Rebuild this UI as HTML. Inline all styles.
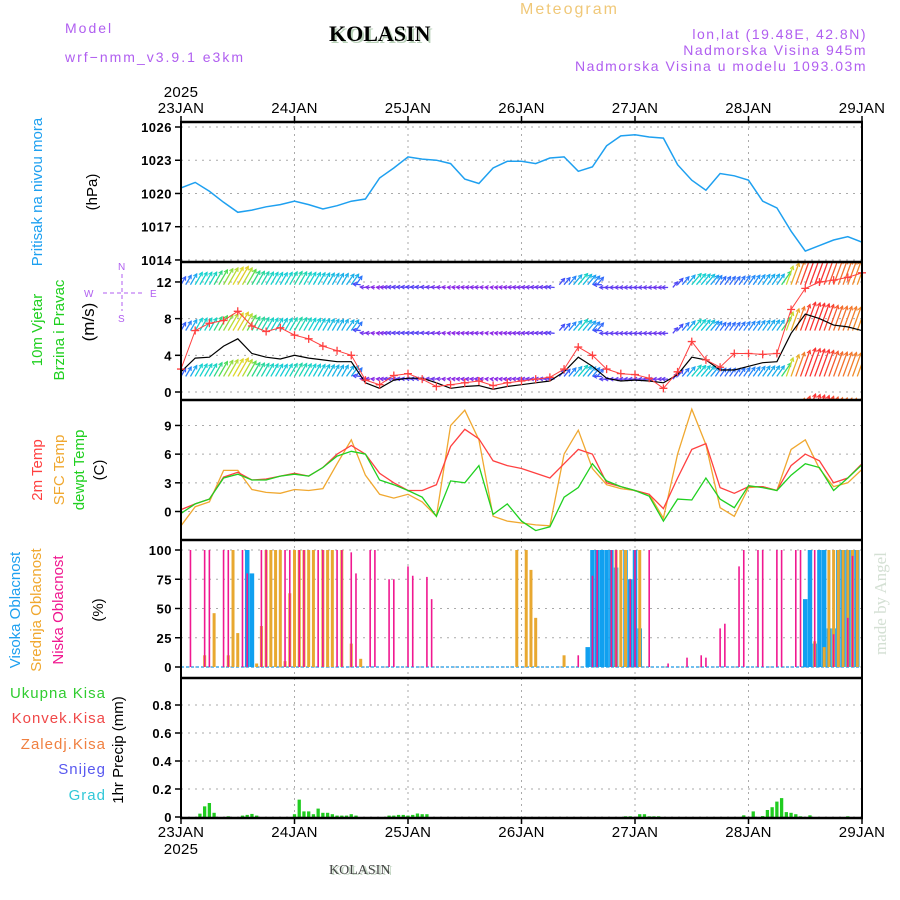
<!DOCTYPE html>
<html><head><meta charset="utf-8"><title>Meteogram KOLASIN</title>
<style>
html,body{margin:0;padding:0;background:#fff;}
svg{display:block;font-family:"Liberation Sans",sans-serif;}
.tk{font-size:13px;font-weight:bold;fill:#000;letter-spacing:0.5px;}
.dl{font-size:15px;fill:#000;letter-spacing:0.3px;}
.lbl{font-size:14px;letter-spacing:0.5px;}
</style></head>
<body>
<svg id="chart" width="900" height="900" viewBox="0 0 900 900">
<defs>
<clipPath id="cpW"><rect x="181" y="263" width="681" height="136"/></clipPath>
<clipPath id="cpP"><rect x="181" y="123" width="681" height="138"/></clipPath>
</defs>
<g id="grid"></g>
<g id="marks"></g>
<g id="frame"></g>
<g id="axes"></g>

<text x="65" y="33" class="lbl" fill="#b05ef0" style="letter-spacing:2px">Model</text>
<text x="65" y="62" class="lbl" fill="#b05ef0" style="letter-spacing:2px">wrf−nmm_v3.9.1 e3km</text>
<text x="331" y="43" font-family="Liberation Serif,serif" font-size="22" font-weight="bold" fill="#b8d0b8">KOLASIN</text>
<text x="329" y="41" font-family="Liberation Serif,serif" font-size="22" font-weight="bold" fill="#000">KOLASIN</text>
<text x="520" y="14" font-size="16" fill="#f0c878" style="letter-spacing:2px">Meteogram</text>
<text x="867" y="39" text-anchor="end" class="lbl" font-size="13" fill="#b05ef0" style="letter-spacing:1.5px">lon,lat (19.48E, 42.8N)</text>
<text x="867" y="55" text-anchor="end" class="lbl" font-size="13" fill="#b05ef0" style="letter-spacing:1.5px">Nadmorska Visina 945m</text>
<text x="867" y="71" text-anchor="end" class="lbl" font-size="13" fill="#b05ef0" style="letter-spacing:1.5px">Nadmorska Visina u modelu 1093.03m</text>

<g font-size="15">
<text transform="translate(42,192) rotate(-90)" text-anchor="middle" fill="#1ea0f0">Pritisak na nivou mora</text>
<text transform="translate(97,192) rotate(-90)" text-anchor="middle" fill="#000">(hPa)</text>
<text transform="translate(42,330) rotate(-90)" text-anchor="middle" fill="#20d020">10m Vjetar</text>
<text transform="translate(64,330) rotate(-90)" text-anchor="middle" fill="#20d020">Brzina i Pravac</text>
<text transform="translate(94,322) rotate(-90)" text-anchor="middle" fill="#000" font-size="17">(m/s)</text>
<text transform="translate(42,470) rotate(-90)" text-anchor="middle" fill="#ff4040">2m Temp</text>
<text transform="translate(64,470) rotate(-90)" text-anchor="middle" fill="#f0a830">SFC Temp</text>
<text transform="translate(84,470) rotate(-90)" text-anchor="middle" fill="#20d020">dewpt Temp</text>
<text transform="translate(104,470) rotate(-90)" text-anchor="middle" fill="#000">(C)</text>
<text transform="translate(20,610) rotate(-90)" text-anchor="middle" fill="#1ea0f0">Visoka Oblacnost</text>
<text transform="translate(41,610) rotate(-90)" text-anchor="middle" fill="#f0a830">Srednja Oblacnost</text>
<text transform="translate(63,610) rotate(-90)" text-anchor="middle" fill="#f01890">Niska Oblacnost</text>
<text transform="translate(103,610) rotate(-90)" text-anchor="middle" fill="#000">(%)</text>
<text transform="translate(123,750) rotate(-90)" text-anchor="middle" fill="#000">1hr Precip (mm)</text>
</g>
<g font-size="15" text-anchor="end" style="letter-spacing:1px">
<text x="106" y="698" fill="#30cc30">Ukupna Kisa</text>
<text x="106" y="723" fill="#f04848">Konvek.Kisa</text>
<text x="106" y="749" fill="#f08040">Zaledj.Kisa</text>
<text x="106" y="774" fill="#5858f0">Snijeg</text>
<text x="106" y="800" fill="#30c8d8">Grad</text>
</g>
<g fill="#b05ef0" stroke="#b05ef0" font-size="10">
<text x="118" y="270" stroke="none">N</text>
<text x="118" y="322" stroke="none">S</text>
<text x="84" y="297" stroke="none">W</text>
<text x="150" y="297" stroke="none">E</text>
<line x1="122" y1="274" x2="122" y2="311" stroke-dasharray="4,3" stroke-width="1"/>
<line x1="103" y1="293" x2="142" y2="293" stroke-dasharray="4,3" stroke-width="1"/>
</g>
<text transform="translate(886,655) rotate(-90)" font-family="Liberation Serif,serif" font-size="17" fill="#d4e0d4">made by Angel</text>
<text x="331" y="875" font-family="Liberation Serif,serif" font-size="14" fill="#c0d4c0">KOLASIN</text>
<text x="329" y="874" font-family="Liberation Serif,serif" font-size="14" fill="#444">KOLASIN</text>
</svg>
<script>
// ---- data (3-hourly, starting 23JAN 00h) ----
const dayLabels = ["23JAN","24JAN","25JAN","26JAN","27JAN","28JAN","29JAN"];
const pressure = [1020.5,1021.0,1020.2,1019.2,1018.3,1018.5,1018.8,1019.0,1019.3,1019.0,1018.6,1018.9,1019.3,1019.5,1021.4,1022.3,1023.3,1023.1,1023.0,1022.7,1021.3,1020.9,1022.3,1022.9,1022.9,1022.7,1023.2,1023.3,1022.0,1022.4,1024.3,1025.2,1025.3,1025.1,1025.0,1022.6,1021.2,1020.3,1021.8,1021.6,1021.2,1019.3,1018.7,1016.6,1014.8,1015.3,1015.8,1016.1,1015.6];
const windSpeed = [2.2,3.7,3.8,5.0,5.8,4.2,3.8,3.6,4.0,3.7,3.5,3.3,3.3,1.0,0.4,1.3,1.5,1.5,1.0,0.4,0.6,0.7,0.3,0.6,0.8,1.0,1.2,2.2,3.8,2.8,1.5,1.2,1.3,1.2,1.0,1.9,3.8,3.5,2.4,2.4,2.8,3.2,3.3,6.4,8.5,8.0,7.3,7.1,6.7];
const windGust = [2.5,6.7,7.5,7.8,8.8,7.2,6.6,7.0,6.2,5.8,5.0,4.5,4.0,1.3,0.8,1.8,2.0,1.4,0.6,0.8,1.0,1.2,0.7,1.0,1.2,1.4,1.6,2.5,4.9,4.0,2.5,2.0,1.9,1.5,0.4,2.2,5.5,3.5,2.7,4.2,4.2,4.1,4.2,9.0,11.3,12.0,12.2,12.5,13.0];
const windDir = [30,30,30,30,30,30,30,30,30,30,30,30,35,275,275,275,275,275,275,275,275,275,275,275,275,275,275,40,40,40,270,270,270,270,270,40,40,40,35,35,35,35,35,20,20,20,20,20,20];
const temp2m = [0.2,0.8,1.3,3.6,4.1,3.3,3.4,3.7,4.0,3.7,4.6,6.0,6.9,6.0,4.0,3.0,2.2,2.2,2.8,6.8,8.6,7.6,5.3,4.8,4.5,4.0,3.5,5.0,6.5,6.0,3.0,2.6,2.2,1.8,0.3,3.5,6.5,7.1,2.5,1.9,2.6,2.6,2.2,4.8,6.0,5.3,3.0,3.5,5.0];
const tempSfc = [-1.5,0.5,1.0,4.3,4.3,2.3,2.0,1.9,2.3,2.2,2.4,5.0,7.5,3.8,1.8,1.4,1.8,1.0,-0.5,9.0,10.6,7.5,-0.5,-1.0,-1.2,-1.4,-1.5,6.0,8.5,4.5,2.8,2.4,2.2,1.8,-0.7,6.0,10.7,7.0,0.4,-0.5,2.5,2.6,2.2,6.5,7.5,4.5,2.6,3.0,4.4];
const dewpt = [-0.2,0.8,1.3,3.5,3.9,3.3,3.3,3.7,3.9,3.7,4.6,5.8,6.3,6.0,3.3,2.8,2.2,1.5,-0.5,3.2,3.0,4.8,-0.3,0.8,-1.0,-2.0,-1.6,1.5,2.5,5.0,3.2,2.6,2.2,1.6,-1.0,1.3,1.2,3.5,1.3,0.4,2.7,2.5,2.2,3.8,5.0,4.6,2.2,3.5,4.9];
const lowCloudHours = [2,5,6,9,10,13,14,17,18,22,23,25,26,29,30,33,34,36,37,40,41,44,45,48,49,52,53,84,87,88,91,92,95,96,99,103,107,110,111,114,115,118,119,122,123,126,127,130,131,134,138,141,142];
const lowCloudPct = [100,100,100,100,100,100,80,100,100,100,100,100,100,100,100,100,100,98,80,100,100,75,75,86,78,77,58,10,78,100,100,100,75,100,100,3,8,10,8,33,37,86,100,100,100,100,100,100,100,100,28,42,95];
const midCloudHours = [5,7,10,11,12,16,17,18,19,20,21,22,23,24,25,26,27,28,30,31,32,34,36,38,71,73,74,75,81,92,93,94,97,134,136,137,138,139,140,141,142,143];
const midCloudPct = [10,46,10,100,29,3,35,100,100,100,100,5,63,100,100,100,100,100,100,100,100,100,20,7,100,100,83,42,10,100,100,100,100,22,17,100,100,100,100,100,100,100];
const highCloudHours = [14,15,86,87,88,89,90,91,92,94,95,96,97,132,133,134,135,136,137,138,139,140,141,142,143];
const highCloudPct = [100,80,17,100,100,100,100,100,85,100,75,100,33,58,100,20,100,100,33,33,100,100,100,100,100];
const precipHours = [4,5,6,7,10,13,14,15,16,24,25,26,27,28,29,30,31,32,33,34,35,36,37,44,45,46,47,48,49,50,51,52,94,95,97,98,99,100,101,119,121,123,124,125,126,127,128,129,130,131,133,141];
const precipMm = [0.024,0.076,0.10,0.03,0.005,0.01,0.015,0.022,0.01,0.02,0.124,0.04,0.04,0.02,0.06,0.03,0.03,0.02,0.01,0.01,0.01,0.02,0.01,0.01,0.01,0.015,0.015,0.01,0.015,0.025,0.02,0.02,0.005,0.005,0.02,0.02,0.005,0.005,0.005,0.012,0.04,0.007,0.05,0.07,0.11,0.135,0.035,0.03,0.02,0.005,0.012,0.005];
const pTicks = [1014,1017,1020,1023,1026];
const wTicks = [0,4,8,12];
const tTicks = [0,3,6,9];
const cTicks = [0,25,50,75,100];
const rTicks = ["0","0.2","0.4","0.6","0.8"];

const X = h => 181 + h*681/144;
const Yp = v => 127 + (1026-v)*11.08;
const Yw = v => 392 - v*9.17;
const Yt = v => 511.5 - v*9.56;
const Yc = p => 667 - p*1.17;
const Yr = m => 817 - m*140;
const NS = "http://www.w3.org/2000/svg";
function mk(parent, tag, attrs){const e=document.createElementNS(NS,tag);for(const k in attrs)e.setAttribute(k,attrs[k]);parent.appendChild(e);return e;}
const grid=document.getElementById('grid'), marks=document.getElementById('marks'), frame=document.getElementById('frame'), axes=document.getElementById('axes');

const panels=[[122,262],[262,400],[400,540],[540,678],[678,818]];
for(let d=1; d<6; d++){
  const x=X(d*24);
  panels.forEach(p=>{
    const g=mk(grid,'line',{x1:x,x2:x,y1:p[0],y2:p[1],stroke:'#aaa','stroke-dasharray':'2,4'});
    
    
  });
}
function yTicks(vals, labels, fy){
  vals.forEach((v,i)=>{
    const y=fy(v);
    const g=mk(grid,'line',{x1:181,x2:862,y1:y,y2:y,stroke:'#aaa','stroke-dasharray':'2,5'});
    
    
    mk(frame,'line',{x1:175,x2:181,y1:y,y2:y,stroke:'#000','stroke-width':1.5});
    const t=mk(axes,'text',{x:172,y:y+5,'text-anchor':'end',class:'tk'});
    t.textContent=labels[i];
    
    
  });
}
yTicks(pTicks,pTicks.map(String),Yp);
yTicks(wTicks,wTicks.map(String),Yw);
yTicks(tTicks,tTicks.map(String),Yt);
yTicks(cTicks,cTicks.map(String),Yc);
yTicks(rTicks.map(Number),rTicks,Yr);

[122,262,400,540,678,818].forEach(y=>{mk(frame,'line',{x1:180,x2:863,y1:y,y2:y,stroke:'#000','stroke-width':2.5});});
mk(frame,'line',{x1:181,x2:181,y1:122,y2:818,stroke:'#000','stroke-width':2});
mk(frame,'line',{x1:862,x2:862,y1:122,y2:818,stroke:'#000','stroke-width':2});
dayLabels.forEach((lab,i)=>{
  const x=X(i*24);
  mk(frame,'line',{x1:x,x2:x,y1:116,y2:122,stroke:'#000','stroke-width':1.5});
  mk(frame,'line',{x1:x,x2:x,y1:818,y2:824,stroke:'#000','stroke-width':1.5});
  const t=mk(axes,'text',{x:x,y:113,'text-anchor':'middle',class:'dl'});t.textContent=lab;
  
  
  const b=mk(axes,'text',{x:x,y:837,'text-anchor':'middle',class:'dl'});b.textContent=lab;
  
  
});
let yr=mk(axes,'text',{x:X(0),y:97,'text-anchor':'middle',class:'dl'});yr.textContent='2025';


yr=mk(axes,'text',{x:X(0),y:854,'text-anchor':'middle',class:'dl'});yr.textContent='2025';



function line(arr, fy, color, name, w, clip){
  const pts=arr.map((v,i)=>X(i*3).toFixed(1)+','+fy(v).toFixed(1)).join(' ');
  const p=mk(marks,'polyline',{points:pts,fill:'none',stroke:color,'stroke-width':w||1.3});
  if(clip) p.setAttribute('clip-path','url(#'+clip+')');
  
  
  return p;
}
function interp(arr,h){const k=h/3,i=Math.floor(k),f=k-i;if(i>=arr.length-1)return arr[arr.length-1];return arr[i]*(1-f)+arr[i+1]*f;}
function speedColor(s){
  const stops=[[0.5,[140,40,230]],[2,[60,80,250]],[3,[30,150,250]],[3.7,[20,210,210]],[4.5,[60,220,90]],[5.5,[220,220,40]],[6.8,[240,150,40]],[8,[250,50,50]]];
  if(s<=stops[0][0])return 'rgb('+stops[0][1]+')';
  for(let i=1;i<stops.length;i++){if(s<=stops[i][0]){const a=stops[i-1],b=stops[i],f=(s-a[0])/(b[0]-a[0]);return 'rgb('+a[1].map((c,j)=>Math.round(c+(b[1][j]-c)*f))+')';}}
  return 'rgb('+stops[stops.length-1][1]+')';
}

line(pressure,Yp,'#1ea0f0','pressure-line',1.5,'cpP');

const wg=mk(marks,'g',{'clip-path':'url(#cpW)'});


[11.7,6.7,1.7,-3.3].forEach(base=>{
  for(let h=0;h<=144;h++){
    const s=interp(windSpeed,h), d=windDir[Math.min(Math.round(h/3),windDir.length-1)]*Math.PI/180;
    const L=3.3*s+2, x0=X(h), y0=Yw(s<1.6?base-0.3:base), x1=x0+L*Math.sin(d), y1=y0-L*Math.cos(d);
    const c=speedColor(s);
    mk(wg,'line',{x1:x0,y1:y0,x2:x1,y2:y1,stroke:c,'stroke-width':1.3});
    const ang=Math.atan2(y1-y0,x1-x0);
    mk(wg,'polyline',{points:(x1-4*Math.cos(ang-0.5))+','+(y1-4*Math.sin(ang-0.5))+' '+x1+','+y1+' '+(x1-4*Math.cos(ang+0.5))+','+(y1-4*Math.sin(ang+0.5)),fill:'none',stroke:c,'stroke-width':1.1});
  }
});
line(windSpeed,Yw,'#000','wind-speed-line',1.2,'cpW');
line(windGust,Yw,'#ff4040','wind-gust-line',1,'cpW');
windGust.forEach((v,i)=>{
  const x=X(i*3),y=Yw(v);
  if(y<263)return;
  const g=mk(marks,'path',{d:`M${x-4},${y}H${x+4}M${x},${y-4}V${y+4}`,stroke:'#ff4040','stroke-width':1.3});
  
  
});

line(tempSfc,Yt,'#f0a830','sfc-temp-line',1.3);
line(temp2m,Yt,'#ff4040','temp-2m-line',1.3);
line(dewpt,Yt,'#20d020','dewpoint-line',1.3);

mk(marks,'line',{x1:181,x2:862,y1:667,y2:667,stroke:'#40a8e8','stroke-width':1.5,'stroke-dasharray':'3,2'});
function bars(hours, vals, fy, color, w, name){
  hours.forEach((h,i)=>{
    const y=fy(vals[i]), y0=fy(0);
    const r=mk(marks,'rect',{x:X(h)-w/2,y:y,width:w,height:y0-y,fill:color});
    
    
  });
}
bars(highCloudHours,highCloudPct,Yc,'#10a0f0',4.5,'high-cloud-bar');
bars(midCloudHours,midCloudPct,Yc,'#e8a830',3,'mid-cloud-bar');
bars(lowCloudHours,lowCloudPct,Yc,'#f01890',1.6,'low-cloud-bar');

bars(precipHours,precipMm,Yr,'#20cc20',3.3,'precip-bar');
</script>
</body></html>
